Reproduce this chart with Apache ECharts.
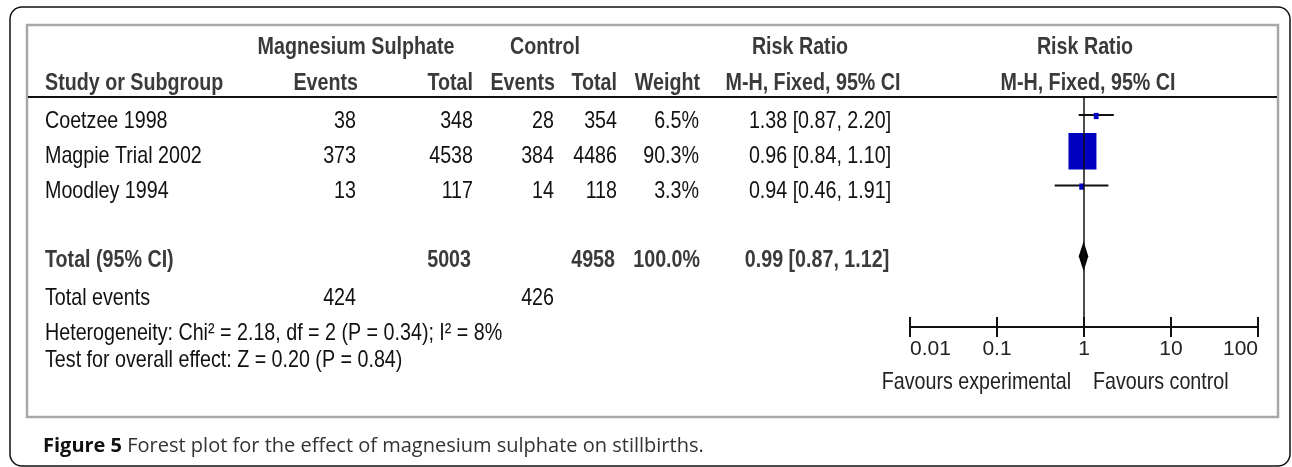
<!DOCTYPE html>
<html><head><meta charset="utf-8">
<script src="https://cdn.jsdelivr.net/npm/echarts@6/dist/echarts.min.js"></script>
<style>html,body{margin:0;padding:0;background:#fff}#c{width:1292px;height:467px}</style>
</head><body><div id="c"></div>
<script>
// ---- data ----
const studies = ['Coetzee 1998', 'Magpie Trial 2002', 'Moodley 1994'];
const expEvents = [38, 373, 13];
const expTotal = [348, 4538, 117];
const ctlEvents = [28, 384, 14];
const ctlTotal = [354, 4486, 118];
const weights = [6.5, 90.3, 3.3];
const rr = [1.38, 0.96, 0.94];
const rrLow = [0.87, 0.84, 0.46];
const rrHigh = [2.20, 1.10, 1.91];
const totalLabel = 'Total (95% CI)';
const totalExp = 5003, totalCtl = 4958, totalWeight = 100.0;
const totalRR = [0.99], totalLow = [0.87], totalHigh = [1.12];
const totalEventsLabel = 'Total events';
const totalEventsExp = 424, totalEventsCtl = 426;
const heterogeneity = 'Heterogeneity: Chi² = 2.18, df = 2 (P = 0.34); I² = 8%';
const overallTest = 'Test for overall effect: Z = 0.20 (P = 0.84)';
const axisTicks = [0.01, 0.1, 1, 10, 100];
const axisTickLabels = ['0.01', '0.1', '1', '10', '100'];
const favours = ['Favours experimental', 'Favours control'];
const headers1 = ['Magnesium Sulphate', 'Control', 'Risk Ratio', 'Risk Ratio'];
const headers2 = ['Study or Subgroup', 'Events', 'Total', 'Events', 'Total', 'Weight', 'M-H, Fixed, 95% CI', 'M-H, Fixed, 95% CI'];
const captionBold = 'Figure 5';
const captionText = 'Forest plot for the effect of magnesium sulphate on stillbirths.';

// ---- layout ----
const W = 1292, H = 467;
const FONT = "'Liberation Sans', Arial, sans-serif";
const FS = 24, NARROW = 0.82;
const plotL = 910, plotR = 1258, plotT = 97, plotB = 327;
const row0 = 115, rowH = 35.3;         // marker rows
const totalIdx = 4;
const textOff = 6;
const rowY = i => row0 + rowH * i;
const colEventsExp = 356, colTotalExp = 473, colEventsCtl = 554, colTotalCtl = 617, colWeight = 699, colRR = 820;
const BOLD_C = '#3a3a3a', REG_C = '#111';

function fmtRR(v, l, h) { return v.toFixed(2) + ' [' + l.toFixed(2) + ', ' + h.toFixed(2) + ']'; }

function txt(text, x, y, opts) {
  opts = opts || {};
  const align = opts.align || 'left';
  const sx = opts.scaleX == null ? NARROW : opts.scaleX;
  return {
    type: 'text', x: x, y: y, scaleX: sx, silent: true, z: 10,
    style: {
      text: text, x: 0, y: 0,
      font: (opts.bold ? 'bold ' : '') + (opts.size || FS) + 'px ' + (opts.family || FONT),
      fill: opts.color || (opts.bold ? BOLD_C : REG_C),
      textAlign: align, align: align,
      textVerticalAlign: 'middle', verticalAlign: 'middle',
      rich: opts.rich
    }
  };
}

const graphics = [];
// frames
graphics.push({ type: 'rect', shape: { x: 10, y: 7, width: 1280, height: 459, r: 12 }, style: { fill: 'none', stroke: '#111', lineWidth: 1.5 }, silent: true, z: 1 });
graphics.push({ type: 'rect', shape: { x: 27, y: 25, width: 1251, height: 392 }, style: { fill: 'none', stroke: '#a8a8a8', lineWidth: 2.5 }, silent: true, z: 1 });
graphics.push({ type: 'line', shape: { x1: 28, y1: plotT, x2: 1277, y2: plotT }, style: { stroke: '#111', lineWidth: 2 }, silent: true, z: 5 });

// headers
const h1y = 47, h2y = 83;
graphics.push(txt(headers1[0], 356, h1y, { bold: true, align: 'center' }));
graphics.push(txt(headers1[1], 545, h1y, { bold: true, align: 'center' }));
graphics.push(txt(headers1[2], 800, h1y, { bold: true, align: 'center' }));
graphics.push(txt(headers1[3], 1085, h1y, { bold: true, align: 'center' }));
graphics.push(txt(headers2[0], 45, h2y, { bold: true }));
graphics.push(txt(headers2[1], colEventsExp + 2, h2y, { bold: true, align: 'right' }));
graphics.push(txt(headers2[2], colTotalExp, h2y, { bold: true, align: 'right' }));
graphics.push(txt(headers2[3], colEventsCtl + 1, h2y, { bold: true, align: 'right' }));
graphics.push(txt(headers2[4], colTotalCtl, h2y, { bold: true, align: 'right' }));
graphics.push(txt(headers2[5], colWeight + 1, h2y, { bold: true, align: 'right' }));
graphics.push(txt(headers2[6], 813, h2y, { bold: true, align: 'center' }));
graphics.push(txt(headers2[7], 1088, h2y, { bold: true, align: 'center' }));

// study rows
studies.forEach((s, i) => {
  const y = rowY(i) + textOff;
  graphics.push(txt(s, 45, y));
  graphics.push(txt(String(expEvents[i]), colEventsExp, y, { align: 'right' }));
  graphics.push(txt(String(expTotal[i]), colTotalExp, y, { align: 'right' }));
  graphics.push(txt(String(ctlEvents[i]), colEventsCtl, y, { align: 'right' }));
  graphics.push(txt(String(ctlTotal[i]), colTotalCtl, y, { align: 'right' }));
  graphics.push(txt(weights[i].toFixed(1) + '%', colWeight, y, { align: 'right' }));
  graphics.push(txt(fmtRR(rr[i], rrLow[i], rrHigh[i]), colRR, y, { align: 'center' }));
});
// total row
{
  const y = rowY(totalIdx) + 4;
  graphics.push(txt(totalLabel, 45, y, { bold: true }));
  graphics.push(txt(String(totalExp), colTotalExp - 2, y, { bold: true, align: 'right' }));
  graphics.push(txt(String(totalCtl), colTotalCtl - 2, y, { bold: true, align: 'right' }));
  graphics.push(txt(totalWeight.toFixed(1) + '%', colWeight + 1, y, { bold: true, align: 'right' }));
  graphics.push(txt(fmtRR(totalRR[0], totalLow[0], totalHigh[0]), colRR - 3, y, { bold: true, align: 'center' }));
}
// summary rows
graphics.push(txt(totalEventsLabel, 45, 298));
graphics.push(txt(String(totalEventsExp), colEventsExp, 298, { align: 'right' }));
graphics.push(txt(String(totalEventsCtl), colEventsCtl, 298, { align: 'right' }));
graphics.push(txt(heterogeneity, 45, 333));
graphics.push(txt(overallTest, 45, 360));
// favours
graphics.push(txt(favours[0], 1071, 382, { align: 'right', color: '#222' }));
graphics.push(txt(favours[1], 1093, 382, { align: 'left', color: '#222' }));
// caption
const CAP_FONT = "'Open Sans', 'Noto Sans', sans-serif";
graphics.push(txt('{b|' + captionBold + '} ' + captionText, 43, 446, {
  family: CAP_FONT, size: 20, color: '#333', scaleX: 1,
  rich: { b: { fontFamily: CAP_FONT, fontWeight: 'bold', fontSize: 20, fill: '#111', color: '#111' } }
}));

const studyData = studies.map((s, i) => [rr[i], i, rrLow[i], rrHigh[i], weights[i]]);
const totalData = totalRR.map((v, i) => [v, totalIdx, totalLow[i], totalHigh[i]]);

function tickLabel(v) {
  for (let k = 0; k < axisTicks.length; k++) {
    if (Math.abs(Math.log10(v) - Math.log10(axisTicks[k])) < 1e-6) return axisTickLabels[k];
  }
  return '';
}

const baseX = {
  type: 'log', logBase: 10, min: axisTicks[0], max: axisTicks[axisTicks.length - 1],
  position: 'bottom', gridIndex: 0, splitLine: { show: false }
};

const chart = echarts.init(document.getElementById('c'), null, { renderer: 'canvas', width: W, height: H });
chart.setOption({
  animation: false,
  backgroundColor: '#fff',
  grid: { left: plotL, right: W - plotR, top: plotT, bottom: H - plotB, containLabel: false },
  xAxis: [
    Object.assign({}, baseX, {
      axisLine: { show: true, onZero: false, lineStyle: { color: '#111', width: 2 } },
      axisTick: { show: true, inside: true, length: 10, lineStyle: { color: '#111', width: 2 } },
      axisLabel: {
        show: true, margin: 12, formatter: tickLabel, color: '#222',
        fontFamily: FONT, fontSize: 21, alignMinLabel: 'left', alignMaxLabel: 'right'
      }
    }),
    Object.assign({}, baseX, {
      axisLine: { show: false, onZero: false },
      axisTick: { show: true, inside: false, length: 10, lineStyle: { color: '#111', width: 2 } },
      axisLabel: { show: false }
    })
  ],
  yAxis: { type: 'value', inverse: true, min: (plotT - row0) / rowH, max: (plotB - row0) / rowH, show: false },
  graphic: graphics,
  series: [
    {
      type: 'line', data: [], z: 1,
      markLine: {
        silent: true, symbol: 'none', label: { show: false },
        lineStyle: { color: '#111', width: 1.5, type: 'solid' },
        data: [{ xAxis: 1 }]
      }
    },
    {
      type: 'custom', z: 3, data: studyData, encode: { x: 0, y: 1 },
      renderItem: function (params, api) {
        const y = api.value(1);
        const c = api.coord([api.value(0), y]);
        const l = api.coord([api.value(2), y]);
        const h = api.coord([api.value(3), y]);
        const w = Math.max(4.8, 0.31 * api.value(4));
        const hh = w * 1.3;
        return {
          type: 'group', children: [
            { type: 'line', shape: { x1: l[0], y1: l[1], x2: h[0], y2: h[1] }, style: { stroke: '#111', lineWidth: 2 } },
            { type: 'rect', shape: { x: c[0] - w / 2, y: c[1] - hh / 2 + 1, width: w, height: hh }, style: { fill: '#0000c0' } }
          ]
        };
      }
    },
    {
      type: 'custom', z: 3, data: totalData, encode: { x: 0, y: 1 },
      renderItem: function (params, api) {
        const y = api.value(1);
        const c = api.coord([api.value(0), y]);
        const l = api.coord([api.value(2), y]);
        const h = api.coord([api.value(3), y]);
        return {
          type: 'polygon',
          shape: { points: [[l[0], l[1]], [c[0], c[1] - 15], [h[0], h[1]], [c[0], c[1] + 15]] },
          style: { fill: '#000' }
        };
      }
    }
  ]
});
</script></body></html>
